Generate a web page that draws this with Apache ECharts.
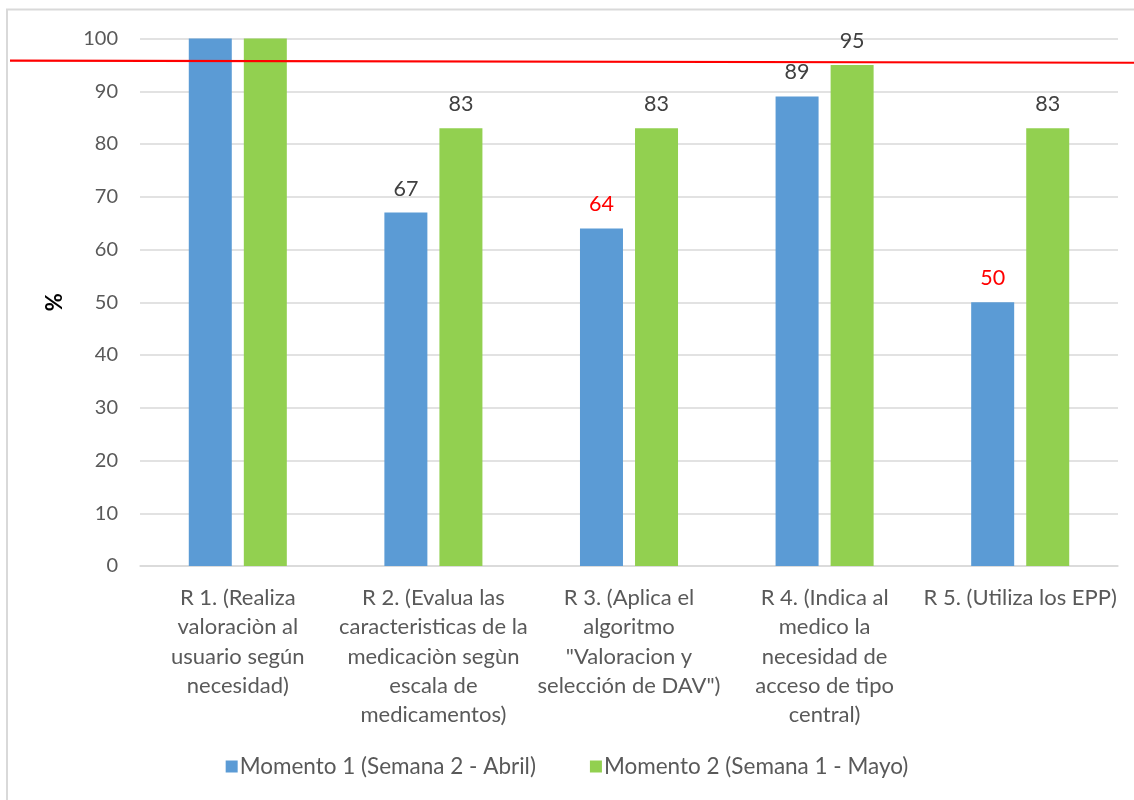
<!DOCTYPE html>
<html>
<head>
<meta charset="utf-8">
<script src="https://cdn.jsdelivr.net/npm/echarts@6/dist/echarts.min.js"></script>
<style>
  html, body { margin: 0; padding: 0; background: #ffffff; }
  #chart { width: 1134px; height: 800px; }
</style>
</head>
<body>
<div id="chart"></div>
<script>
// Categories (line breaks as they are laid out under the axis)
const categories = [
  'R 1. (Realiza\nvaloraciòn al\nusuario según\nnecesidad)',
  'R 2. (Evalua las\ncaracteristicas de la\nmedicaciòn segùn\nescala de\nmedicamentos)',
  'R 3. (Aplica el\nalgoritmo\n"Valoracion y\nselección de DAV")',
  'R 4. (Indica al\nmedico la\nnecesidad de\nacceso de tipo\ncentral)',
  'R 5. (Utiliza los EPP)'
];
const seriesNames = ['Momento 1 (Semana 2 - Abril)', 'Momento 2 (Semana 1 - Mayo)'];
const momento1 = [100, 67, 64, 89, 50];
const momento2 = [100, 83, 83, 95, 83];
// Values whose label is shown in red (below target)
const redLabels1 = [false, false, true, false, true];
const redLabels2 = [false, false, false, false, false];
// Labels hidden for the first group
const hiddenLabels = [true, false, false, false, false];
// Target reference line (value at left and right end)
const targetLine = [95.8, 95.4];
const yTicks = { min: 0, max: 100, interval: 10 };

const FONT = 'Lato';
const TEXT = '#595959';

function items(values, reds) {
  return values.map((v, i) => ({
    value: v,
    label: {
      show: !hiddenLabels[i],
      color: reds[i] ? '#ff0000' : '#404040'
    }
  }));
}

const chart = echarts.init(document.getElementById('chart'), null, { renderer: 'canvas' });

const option = {
  animation: false,
  backgroundColor: '#ffffff',
  textStyle: { fontFamily: FONT },
  grid: { left: 140, right: 16, top: 38.5, bottom: 234, containLabel: false },
  legend: {
    bottom: 17,
    left: 'center',
    icon: 'rect',
    itemWidth: 12,
    itemHeight: 12,
    itemGap: 54,
    textStyle: { fontFamily: FONT, fontSize: 22.5, color: TEXT, padding: [0, 0, 0, -3] },
    data: seriesNames
  },
  xAxis: {
    type: 'category',
    data: categories,
    axisLine: { lineStyle: { color: '#d9d9d9', width: 1.5 } },
    axisTick: { show: false },
    axisLabel: {
      interval: 0,
      margin: 17,
      fontFamily: FONT,
      fontSize: 22,
      lineHeight: 29.4,
      color: TEXT,
      align: 'center'
    }
  },
  yAxis: {
    type: 'value',
    min: yTicks.min,
    max: yTicks.max,
    interval: yTicks.interval,
    name: '%',
    nameLocation: 'middle',
    nameGap: 74,
    nameRotate: 90,
    nameTextStyle: { fontFamily: FONT, fontSize: 22, fontWeight: 'bold', color: '#000000' },
    axisLine: { show: false },
    axisTick: { show: false },
    splitLine: { lineStyle: { color: '#d9d9d9', width: 1.5 } },
    axisLabel: { fontFamily: FONT, fontSize: 20, color: TEXT, margin: 22 }
  },
  series: [
    {
      name: seriesNames[0],
      type: 'bar',
      barWidth: 43,
      barGap: '28%',
      itemStyle: { color: '#5b9bd5' },
      label: { show: true, position: 'top', distance: 13, fontFamily: FONT, fontSize: 21.5 },
      data: items(momento1, redLabels1)
    },
    {
      name: seriesNames[1],
      type: 'bar',
      barWidth: 43,
      itemStyle: { color: '#92d050' },
      label: { show: true, position: 'top', distance: 13, fontFamily: FONT, fontSize: 21.5 },
      data: items(momento2, redLabels2)
    }
  ]
};

chart.setOption(option);

// Outer chart border and the red target line across the full width
const yLeft = chart.convertToPixel({ yAxisIndex: 0 }, targetLine[0]);
const yRight = chart.convertToPixel({ yAxisIndex: 0 }, targetLine[1]);
chart.setOption({
  graphic: [
    {
      type: 'rect',
      shape: { x: 7, y: 9.5, width: 1200, height: 900 },
      style: { fill: 'none', stroke: '#d9d9d9', lineWidth: 2 },
      z: 100,
      silent: true
    },
    {
      type: 'line',
      shape: { x1: 10, y1: yLeft, x2: 1134, y2: yRight },
      style: { stroke: '#ff0000', lineWidth: 2.2 },
      z: 100,
      silent: true
    }
  ]
});
</script>
</body>
</html>
